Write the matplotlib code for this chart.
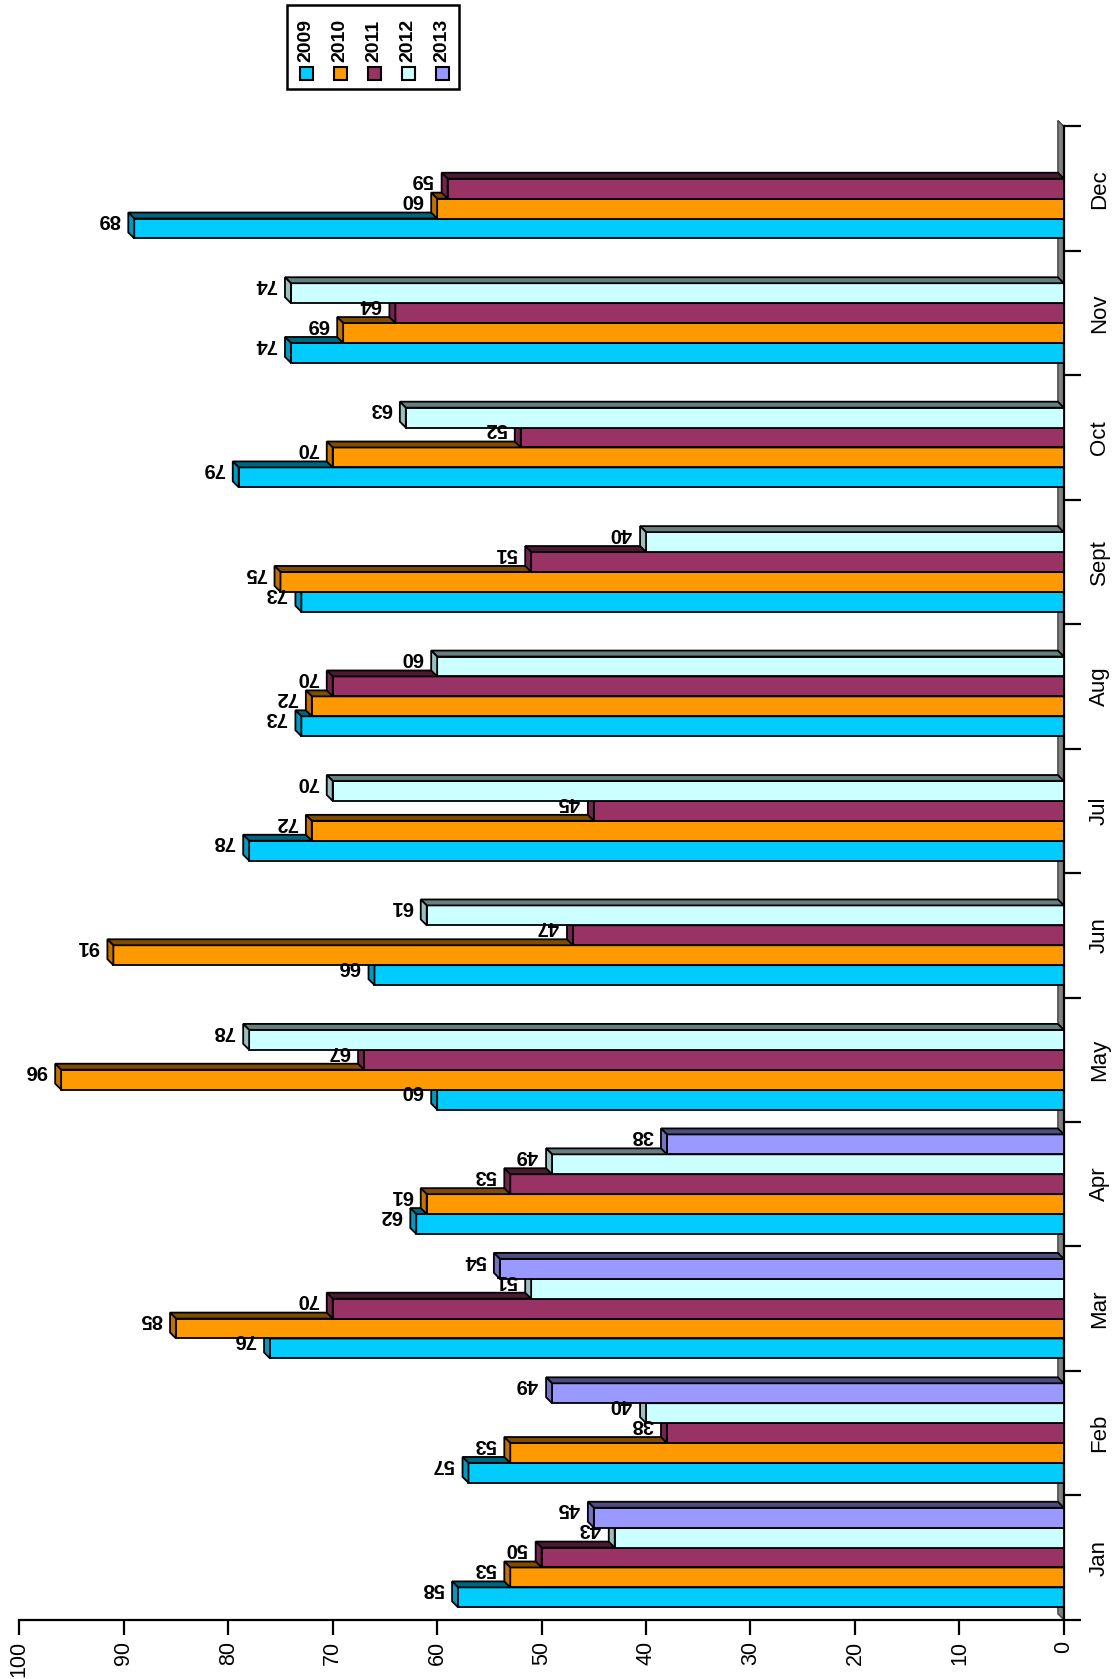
import numpy as np
import matplotlib.pyplot as plt
from matplotlib.patches import Polygon, Rectangle
from matplotlib import colors as mcolors

plt.rcParams['font.family'] = ['Liberation Sans', 'DejaVu Sans']

months = ['Jan', 'Feb', 'Mar', 'Apr', 'May', 'Jun',
          'Jul', 'Aug', 'Sept', 'Oct', 'Nov', 'Dec']
years = ['2009', '2010', '2011', '2012', '2013']
nan = np.nan
v2009 = [58, 57, 76, 62, 60, 66, 78, 73, 73, 79, 74, 89]
v2010 = [53, 53, 85, 61, 96, 91, 72, 72, 75, 70, 69, 60]
v2011 = [50, 38, 70, 53, 67, 47, 45, 70, 51, 52, 64, 59]
v2012 = [43, 40, 51, 49, 78, 61, 70, 60, 40, 63, 74, nan]
v2013 = [45, 49, 54, 38, nan, nan, nan, nan, nan, nan, nan, nan]
series = [v2009, v2010, v2011, v2012, v2013]
colors = ['#00CCFF', '#FF9900', '#993366', '#CCFFFF', '#9999FF']

W, H = 1112, 1679
fig = plt.figure(figsize=(W / 100, H / 100), dpi=100)
ax = fig.add_axes([0.0174, 0.0353, 0.9393, 0.8894])

ax.set_xlim(100, 0)
ax.set_ylim(0, 12)

bar_h = 0.16
dx = 0.57   # depth along value axis
dy = 0.048  # depth along category axis


def shade(c, f):
    r, g, b = mcolors.to_rgb(c)
    return (r * f, g * f, b * f)


# floor / wall at zero
ax.add_patch(Polygon([(0, 0), (0, 12), (dx, 12 + dy), (dx, dy)],
                     closed=True, facecolor='#808080', edgecolor='#404040',
                     lw=1.0, zorder=1, clip_on=False))

for k, vals in enumerate(series):
    col = colors[k]
    z = 2 + 2 * k
    for i, v in enumerate(vals):
        if np.isnan(v):
            continue
        c = i + 0.5 + (k - 2) * bar_h
        y0, y1 = c - bar_h / 2, c + bar_h / 2
        ax.add_patch(Rectangle((0, y0), v, bar_h, facecolor=col,
                               edgecolor='black', lw=1.3, zorder=z))
        ax.add_patch(Polygon([(0, y1), (v, y1), (v + dx, y1 + dy), (dx, y1 + dy)],
                             closed=True, facecolor=shade(col, 0.5),
                             edgecolor='black', lw=1.3, zorder=z))
        ax.add_patch(Polygon([(v, y0), (v, y1), (v + dx, y1 + dy), (v + dx, y0 + dy)],
                             closed=True, facecolor=shade(col, 0.75),
                             edgecolor='black', lw=1.3, zorder=z))
        # label: white box in series order, digits on top of everything
        ax.text(v + 2.4, y1 - 0.01, '%d' % v, rotation=180, ha='center',
                va='center', fontsize=14.5, fontweight='bold', color='white',
                zorder=z + 1,
                bbox=dict(facecolor='white', edgecolor='none', pad=0.5))
        ax.text(v + 2.4, y1 - 0.01, '%d' % v, rotation=180, ha='center',
                va='center', fontsize=14.5, fontweight='bold', color='black',
                zorder=30)

# axes styling
for s in ['top', 'left']:
    ax.spines[s].set_visible(False)
ax.spines['bottom'].set_linewidth(1.6)
ax.spines['right'].set_linewidth(1.6)

ax.set_xticks(np.arange(0, 101, 10))
ax.set_xticklabels([str(t) for t in range(0, 101, 10)], rotation=90,
                   fontsize=15.5)
ax.tick_params(axis='x', direction='out', length=11, width=1.6, pad=4)

ax.yaxis.tick_right()
ax.set_yticks(np.arange(0, 13))
ax.set_yticklabels([])
ax.set_yticks(np.arange(12) + 0.5, minor=True)
ax.set_yticklabels(months, minor=True, rotation=90, fontsize=16,
                   va='center', ha='left')
ax.tick_params(axis='y', which='major', direction='out', length=12,
               width=1.6)
ax.tick_params(axis='y', which='minor', length=0, pad=18)


# legend drawn by hand, rotated like the chart
def px(x, y):
    return x / W, 1 - y / H


lx0, ly0 = px(287, 89)
lx1, ly1 = px(459, 5)
fig.add_artist(Rectangle((lx0, ly0), lx1 - lx0, ly1 - ly0,
                         transform=fig.transFigure, facecolor='white',
                         edgecolor='black', lw=1.8))
for k, yr in enumerate(years):
    xc = 306 + 34 * k
    sx, sy = px(xc - 6.5, 80)
    fig.add_artist(Rectangle((sx, sy), 13 / W, 13 / H,
                             transform=fig.transFigure, facecolor=colors[k],
                             edgecolor='black', lw=1.5))
    tx, ty = px(xc, 62)
    fig.text(tx, ty, yr, rotation=90, ha='center', va='bottom',
             fontsize=14, fontweight='bold')

fig.savefig('out.png', dpi=100)
